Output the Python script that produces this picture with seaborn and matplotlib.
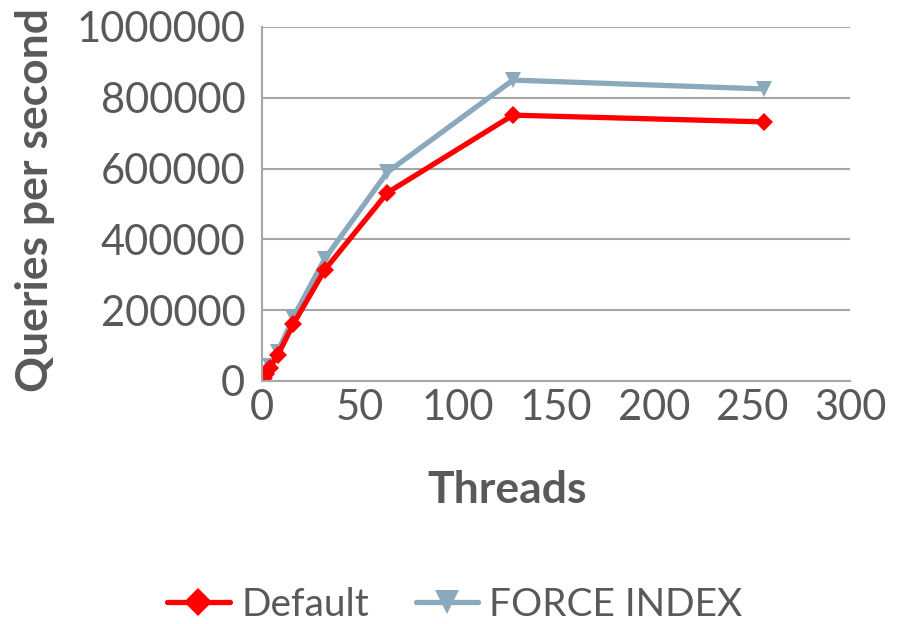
import matplotlib
matplotlib.use("Agg")
import matplotlib.pyplot as plt
import seaborn as sns
import pandas as pd

threads = [1, 2, 4, 8, 16, 32, 64, 128, 256]
default_qps = [9000, 20000, 37000, 73000, 161000, 314000, 532000, 751000, 732000]
force_index_qps = [10000, 20000, 42000, 82000, 180000, 345000, 590000, 850000, 825000]
x_ticks = [0, 50, 100, 150, 200, 250, 300]
y_ticks = [0, 200000, 400000, 600000, 800000, 1000000]

df = pd.DataFrame({
    "Threads": threads * 2,
    "QPS": default_qps + force_index_qps,
    "Series": ["Default"] * len(threads) + ["FORCE INDEX"] * len(threads),
})

sns.set_theme(style="white")
plt.rcParams["font.family"] = ["Lato", "DejaVu Sans"]

W, H = 906, 624
fig = plt.figure(figsize=(W / 100, H / 100), dpi=100)
ax = fig.add_axes([262 / W, 1 - 381 / H, (850 - 262) / W, (381 - 27) / H])

palette = {"Default": "#FF0000", "FORCE INDEX": "#8BA9BC"}
markers = {"Default": "D", "FORCE INDEX": "v"}
sizes = {"Default": 9, "FORCE INDEX": 11}

for name in ["FORCE INDEX", "Default"]:
    sub = df[df["Series"] == name]
    sns.lineplot(data=sub, x="Threads", y="QPS", ax=ax, color=palette[name],
                 marker=markers[name], markersize=sizes[name], markeredgewidth=0,
                 linewidth=3.8, label=name, legend=False)

ax.set_xlim(0, 300)
ax.set_ylim(0, 1000000)
ax.set_xticks(x_ticks)
ax.set_yticks(y_ticks)
ax.set_xticklabels([str(v) for v in x_ticks])
ax.set_yticklabels([str(v) for v in y_ticks])
ax.tick_params(axis="both", labelsize=30, labelcolor="#595959", length=0)
ax.tick_params(axis="y", pad=12)
ax.tick_params(axis="x", pad=6)
ax.yaxis.grid(True, color="#A6A6A6", linewidth=1.5)
ax.xaxis.grid(False)
for side in ["top", "right"]:
    ax.spines[side].set_visible(False)
for side in ["left", "bottom"]:
    ax.spines[side].set_color("#A6A6A6")
    ax.spines[side].set_linewidth(1.5)

ax.set_xlabel("")
ax.set_ylabel("")
fig.text(507 / W, 1 - 490 / H, "Threads", fontsize=32, fontweight="bold",
         color="#595959", ha="center", va="center")
fig.text(35 / W, 1 - 200 / H, "Queries per second", fontsize=32, fontweight="bold",
         color="#595959", ha="center", va="center", rotation=90)

handles = [
    plt.Line2D([], [], color=palette["Default"], marker="D", markersize=14,
               markeredgewidth=0, linewidth=3.8),
    plt.Line2D([], [], color=palette["FORCE INDEX"], marker="v", markersize=17,
               markeredgewidth=0, linewidth=3.8),
]
fig.legend(handles, ["Default", "FORCE INDEX"], loc="center", bbox_to_anchor=(455 / W, 1 - 605 / H),
           ncol=2, frameon=False, fontsize=28, labelcolor="#595959",
           handlelength=1.6, handletextpad=0.3, columnspacing=1.2)

fig.savefig("out.png", dpi=100)
